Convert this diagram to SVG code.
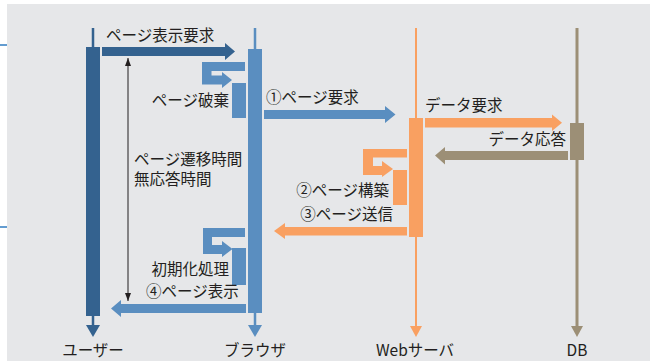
<svg xmlns="http://www.w3.org/2000/svg" width="650" height="361" viewBox="0 0 650 361">
<style>
text{font-family:"Noto Sans CJK JP","Noto Sans",sans-serif;font-size:15.5px;fill:#231f20}
.e{text-anchor:end}
.m{text-anchor:middle}
.u{fill:#34628f}
.b{fill:#5a8ec0}
.o{fill:#f9a061}
.d{fill:#9c8f76}
</style>
<defs>
<marker id="ah" viewBox="0 0 8 6" refX="8" refY="3" markerWidth="8" markerHeight="6" markerUnits="userSpaceOnUse" orient="auto-start-reverse">
<path d="M0,0 L8,3 L0,6 Z" fill="#231f20"/>
</marker>
</defs>
<rect x="7" y="4" width="643" height="357" fill="#e6e7e9"/>
<line x1="0" y1="45" x2="7" y2="45" stroke="#2f7bc0" stroke-width="1.5"/>
<line x1="0" y1="227" x2="7" y2="227" stroke="#2f7bc0" stroke-width="1.5"/>

<g id="user">
<line x1="93" y1="28" x2="93" y2="326" stroke="#34628f" stroke-width="2.5"/>
<rect class="u" x="86" y="47" width="14" height="269"/>
<polygon class="u" points="86,325 100,325 93,337"/>
<text class="m" x="93" y="356">ユーザー</text>
</g>
<g id="browser">
<line x1="255" y1="28" x2="255" y2="326" stroke="#5a8ec0" stroke-width="2.5"/>
<rect class="b" x="248" y="49" width="14" height="264"/>
<polygon class="b" points="248,325 262,325 255,337"/>
<text class="m" x="255" y="356">ブラウザ</text>
</g>
<g id="webserver">
<line x1="416" y1="28" x2="416" y2="327" stroke="#f9a061" stroke-width="2"/>
<rect class="o" x="409" y="118" width="14" height="119"/>
<polygon class="o" points="410,326 422,326 416,337"/>
<text class="m" x="415" y="356">Webサーバ</text>
</g>
<g id="db">
<line x1="577" y1="28" x2="577" y2="327" stroke="#9c8f76" stroke-width="3"/>
<rect class="d" x="570" y="123" width="14" height="37"/>
<polygon class="d" points="571,326 583,326 577,337"/>
<text class="m" x="577" y="356">DB</text>
</g>

<g id="connectors">
<polygon class="u" points="102,47 225,47 225,43 235,51.5 225,60 225,56 102,56"/>
<text x="106" y="41">ページ表示要求</text>

<polygon class="b" points="245,62 202,62 202,84.5 222,84.5 222,88 232,80 222,72 222,75.5 211.5,75.5 211.5,71 245,71"/>
<rect class="b" x="232" y="83" width="14" height="35"/>
<text class="e" x="229" y="106">ページ破棄</text>

<polygon class="b" points="264,110 385,110 385,106 395.5,114.5 385,123 385,119 264,119"/>
<text x="266" y="103">①ページ要求</text>

<polygon class="o" points="425,118 552,118 552,114.5 562,122.75 552,131 552,127.5 425,127.5"/>
<text x="425" y="111">データ要求</text>

<polygon class="d" points="568,151 445,151 445,147 435,155.5 445,164.5 445,160 568,160"/>
<text class="e" x="566" y="145">データ応答</text>

<polygon class="o" points="407,149 363,149 363,175 382,175 382,177 393,169 382,161 382,166 373,166 373,157.5 407,157.5"/>
<rect class="o" x="393" y="170" width="14" height="35"/>
<text class="e" x="389" y="196">②ページ構築</text>

<polygon class="o" points="407,227 285,227 285,223 274,231 285,239 285,235.5 407,235.5"/>
<text class="e" x="393" y="220">③ページ送信</text>

<polygon class="b" points="245,228 203,228 203,254 222,254 222,257 232.5,249 222,241 222,245 212,245 212,237 245,237"/>
<rect class="b" x="232" y="248" width="14" height="37"/>
<text class="e" x="229" y="275">初期化処理</text>

<polygon class="b" points="246,304 121,304 121,300 111,308.5 121,317 121,313 246,313"/>
<text x="146" y="297">④ページ表示</text>

<line x1="128" y1="58" x2="128" y2="301" stroke="#231f20" stroke-width="1" marker-start="url(#ah)" marker-end="url(#ah)"/>
<text x="134" y="165">ページ遷移時間</text>
<text x="134" y="185">無応答時間</text>
</g>
</svg>
